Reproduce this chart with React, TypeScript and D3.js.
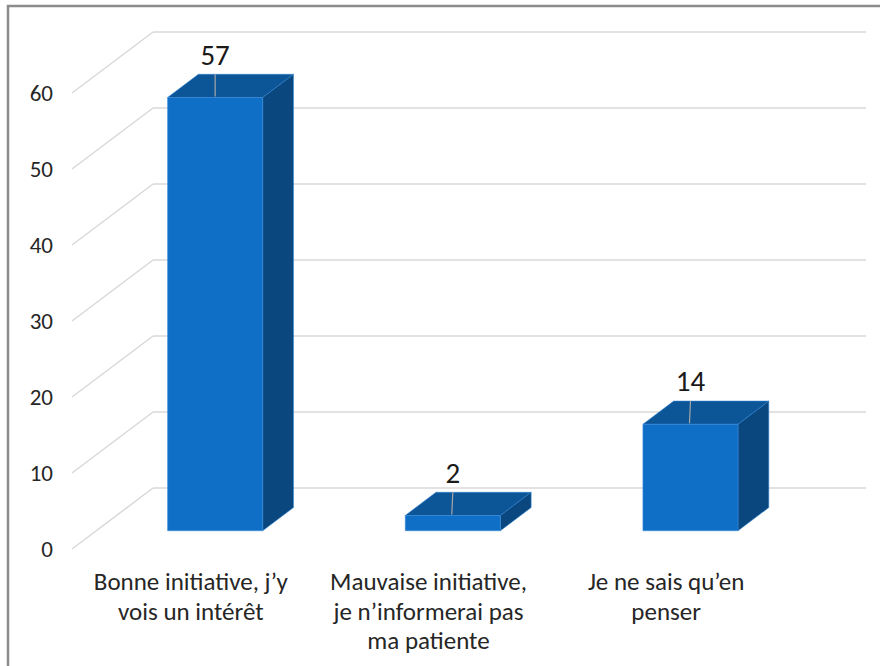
import React from "react";
import * as d3 from "d3";

// data
const categories = [
  ["Bonne initiative, j’y", "vois un intérêt"],
  ["Mauvaise initiative,", "je n’informerai pas", "ma patiente"],
  ["Je ne sais qu’en", "penser"],
];
const values = [57, 2, 14];
const ticks = [0, 10, 20, 30, 40, 50, 60];

// 3d look
const depthX = -81; // back wall -> front plane
const depthY = 61;
const barFront = 0.3; // depth of the bar faces (1 = back wall)
const barBack = 0.68;

const font = "Carlito, Calibri, 'Noto Sans', sans-serif";

export default function App() {
  const width = 880;
  const height = 666;

  const y = d3.scaleLinear().domain([0, 60]).range([488, 32]); // on back wall
  const x = d3
    .scaleBand<number>()
    .domain(d3.range(values.length))
    .range([153, 866])
    .paddingInner(0.6)
    .paddingOuter(0.3);

  // project a point from back wall to a given depth (1 = back, 0 = front)
  const px = (xb: number, d: number) => xb + depthX * (1 - d);
  const py = (yb: number, d: number) => yb + depthY * (1 - d);
  const pts = (arr: [number, number][]) => arr.map((p) => p.join(",")).join(" ");

  const [x0, x1] = x.range();

  return (
    <svg
      width={width}
      height={height}
      style={{ position: "absolute", left: 0, top: 0, background: "#fff" }}
    >
      <rect x={8} y={6} width={900} height={700} fill="#fff" stroke="#8c8c8c" strokeWidth={2.5} />

      {/* grid: back wall + side wall */}
      <g stroke="#d9d9d9" strokeWidth={1.5} fill="none">
        {ticks.map((t) => (
          <g key={t}>
            <line x1={x0} x2={x1} y1={y(t)} y2={y(t)} />
            <line x1={x0} y1={y(t)} x2={px(x0, 0)} y2={py(y(t), 0)} />
          </g>
        ))}
      </g>

      {/* tick labels */}
      <g fontFamily={font} fontSize={23} fill="#262626" textAnchor="end">
        {ticks.map((t) => (
          <text key={t} x={px(x0, 0) - 19} y={py(y(t), 0) + 8}>
            {t}
          </text>
        ))}
      </g>

      {/* bars */}
      {values.map((v, i) => {
        const l = x(i)!;
        const r = l + x.bandwidth();
        const yb = y(0);
        const yt = y(v);
        const front: [number, number][] = [
          [px(l, barFront), py(yt, barFront)],
          [px(r, barFront), py(yt, barFront)],
          [px(r, barFront), py(yb, barFront)],
          [px(l, barFront), py(yb, barFront)],
        ];
        const top: [number, number][] = [
          [px(l, barFront), py(yt, barFront)],
          [px(l, barBack), py(yt, barBack)],
          [px(r, barBack), py(yt, barBack)],
          [px(r, barFront), py(yt, barFront)],
        ];
        const side: [number, number][] = [
          [px(r, barFront), py(yt, barFront)],
          [px(r, barBack), py(yt, barBack)],
          [px(r, barBack), py(yb, barBack)],
          [px(r, barFront), py(yb, barFront)],
        ];
        const cx = (px(l, barFront) + px(r, barFront)) / 2;
        const ty = py(yt, barFront);
        return (
          <g key={i}>
            <polygon points={pts(top)} fill="#0c5597" stroke="#2b7fd0" strokeWidth={0.6} />
            <polygon points={pts(side)} fill="#0a477f" stroke="#2b7fd0" strokeWidth={0.6} />
            <polygon points={pts(front)} fill="#0f6fc6" stroke="#3b8bd8" strokeWidth={0.6} />
            <line
              x1={cx}
              x2={cx + (i === 0 ? 0 : -1)}
              y1={py(yt, barBack)}
              y2={ty - 1}
              stroke="#a6a6a6"
              strokeWidth={1.2}
            />
            <text
              x={cx}
              y={ty - 33}
              textAnchor="middle"
              fontFamily={font}
              fontSize={29}
              fill="#1a1a1a"
            >
              {v}
            </text>
          </g>
        );
      })}

      {/* category labels */}
      <g fontFamily={font} fontSize={25} fill="#262626" textAnchor="middle">
        {categories.map((lines, i) => {
          const cx = px(x(i)! + x.bandwidth() / 2, 0);
          return (
            <text key={i} x={cx} y={590}>
              {lines.map((s, k) => (
                <tspan key={k} x={cx} dy={k === 0 ? 0 : 29.5}>
                  {s}
                </tspan>
              ))}
            </text>
          );
        })}
      </g>
    </svg>
  );
}
